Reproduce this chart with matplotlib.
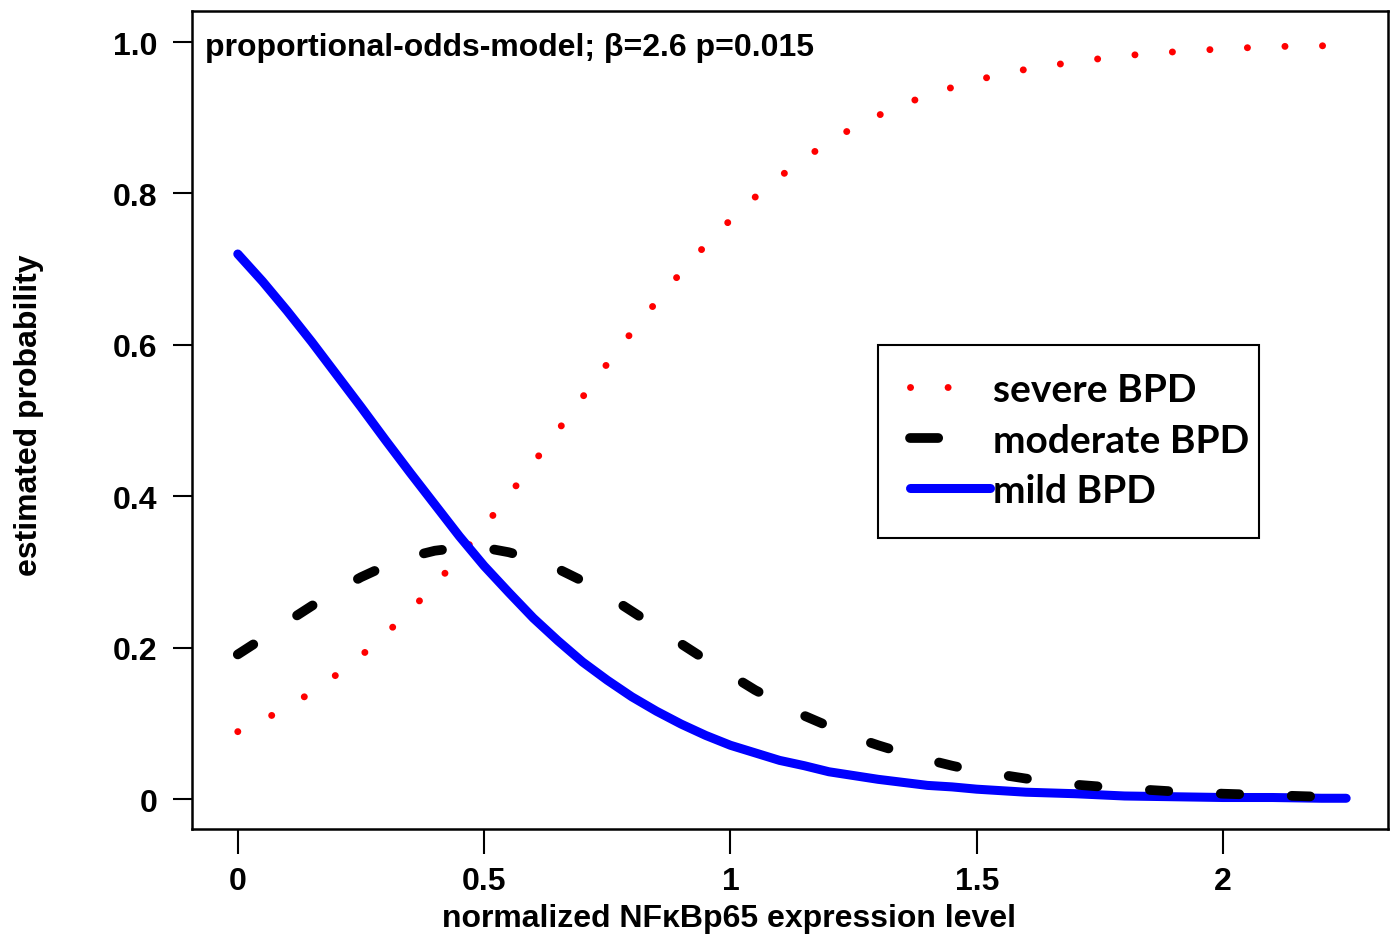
import matplotlib.pyplot as plt
from matplotlib.lines import Line2D
from matplotlib.patches import Rectangle

# values
expr = [0, 0.05, 0.1, 0.15, 0.2, 0.25, 0.3, 0.35, 0.4, 0.45, 0.5, 0.55, 0.6, 0.65,
        0.7, 0.75, 0.8, 0.85, 0.9, 0.95, 1.0, 1.05, 1.1, 1.15, 1.2, 1.25, 1.3, 1.35,
        1.4, 1.45, 1.5, 1.6, 1.7, 1.8, 1.9, 2.0, 2.1, 2.2, 2.25]
severe = [0.089, 0.104, 0.121, 0.141, 0.164, 0.189, 0.218, 0.249, 0.283, 0.320, 0.360, 0.401,
          0.444, 0.487, 0.531, 0.575, 0.617, 0.657, 0.696, 0.732, 0.765, 0.795, 0.822, 0.846,
          0.868, 0.887, 0.903, 0.917, 0.930, 0.940, 0.950, 0.964, 0.974, 0.982, 0.987, 0.991,
          0.994, 0.995, 0.996]
moderate = [0.191, 0.212, 0.234, 0.255, 0.275, 0.293, 0.308, 0.320, 0.328, 0.332, 0.332, 0.326,
            0.317, 0.304, 0.288, 0.269, 0.248, 0.227, 0.205, 0.184, 0.164, 0.144, 0.127, 0.110,
            0.096, 0.082, 0.071, 0.061, 0.052, 0.044, 0.037, 0.027, 0.019, 0.014, 0.010, 0.007,
            0.005, 0.003, 0.003]
mild = [0.720, 0.684, 0.645, 0.604, 0.561, 0.518, 0.474, 0.431, 0.389, 0.347, 0.308, 0.273,
        0.239, 0.209, 0.181, 0.157, 0.135, 0.116, 0.099, 0.084, 0.071, 0.061, 0.051, 0.044,
        0.036, 0.031, 0.026, 0.022, 0.018, 0.016, 0.013, 0.009, 0.007, 0.004, 0.003, 0.002,
        0.002, 0.001, 0.001]

xticks = [0, 0.5, 1, 1.5, 2]
xtick_labels = ['0', '0.5', '1', '1.5', '2']
yticks = [0, 0.2, 0.4, 0.6, 0.8, 1.0]
ytick_labels = ['0', '0.2', '0.4', '0.6', '0.8', '1.0']

plt.rcParams['font.family'] = ['Liberation Sans', 'DejaVu Sans']
plt.rcParams['font.weight'] = 'bold'

fig = plt.figure(figsize=(13.9, 9.37), dpi=100)
ax = fig.add_axes([0.1381, 0.1142, 0.8605, 0.873])

dots = (0, (0.01, 5.4))
dashes = (0, (1.9, 5.4))
ax.plot(expr, severe, color='red', lw=5, linestyle=dots, dash_capstyle='round')
ax.plot(expr, mild, color='#0000ff', lw=6.5, solid_capstyle='round')
ax.plot(expr, moderate, color='black', lw=7, linestyle=dashes, dash_capstyle='round')

ax.set_xlim(-0.093, 2.335)
ax.set_ylim(-0.0396, 1.041)
ax.set_xticks(xticks)
ax.set_xticklabels(xtick_labels)
ax.set_yticks(yticks)
ax.set_yticklabels(ytick_labels)
ax.tick_params(axis='x', direction='out', length=18, width=1.5, pad=9, labelsize=23)
ax.tick_params(axis='y', direction='out', length=14, width=1.5, pad=11, labelsize=23)
for sp in ax.spines.values():
    sp.set_linewidth(1.8)

ax.set_xlabel('normalized NF\u03baBp65 expression level', fontsize=23, fontweight='bold')
ax.xaxis.set_label_coords(0.449, -0.090)
ax.set_ylabel('estimated probability', fontsize=23, fontweight='bold', va='center')
ax.yaxis.set_label_coords(-0.136, 0.507)

ax.text(0.011, 0.956, 'proportional-odds-model; \u03b2=2.6 p=0.015', transform=ax.transAxes,
        fontsize=23, fontweight='bold', va='center', ha='left')

# legend: own box, entries placed inside (proxies so handles look like the original)
ax.add_patch(Rectangle((0.5736, 0.3557), 0.3186, 0.2359, transform=ax.transAxes,
                       facecolor='white', edgecolor='black', lw=1.5, zorder=4))
handles = [
    Line2D([], [], color='red', lw=5, linestyle=(0, (0.01, 5.4, 0.01, 30)),
           dash_capstyle='round'),
    Line2D([], [], color='black', lw=7, linestyle=(0, (2.9, 20)), dash_capstyle='round'),
    Line2D([], [], color='#0000ff', lw=6.5, solid_capstyle='round'),
]
leg = ax.legend(handles, ['severe BPD', 'moderate BPD', 'mild BPD'],
                loc='upper left', bbox_to_anchor=(0.6003, 0.5587),
                borderaxespad=0, prop={'family': 'Lato', 'weight': 'bold', 'size': 28},
                handlelength=2.05, handletextpad=0.08, labelspacing=0.4, borderpad=0,
                frameon=False)
leg.set_zorder(5)

fig.savefig('out.png', dpi=100)
